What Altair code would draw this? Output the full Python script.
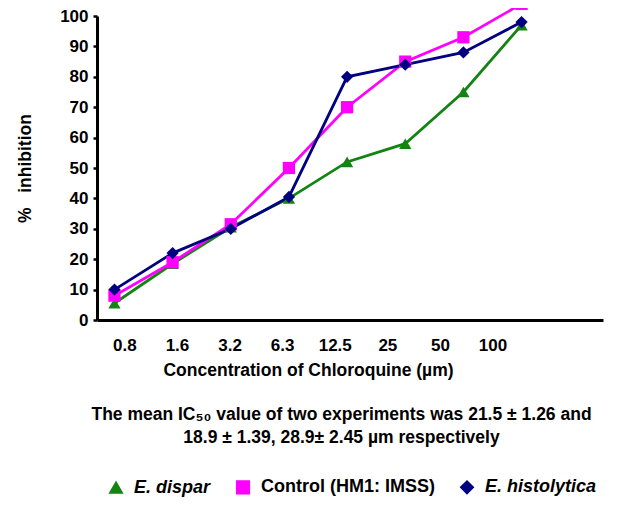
import altair as alt
import pandas as pd

concentrations = ["0.8", "1.6", "3.2", "6.3", "12.5", "25", "50", "100"]
series_names = ["E. dispar", "Control (HM1: IMSS)", "E. histolytica"]
e_dispar = [5.5, 18.5, 30.5, 40, 52, 58, 75, 97]
control = [8, 19, 31.5, 50, 70, 85, 93, 104]
e_histolytica = [10, 22, 30, 40.5, 80, 84, 88, 98]
y_ticks = [0, 10, 20, 30, 40, 50, 60, 70, 80, 90, 100]
caption = ["The mean IC\u2085\u2080 value of two experiments was 21.5 \u00b1 1.26 and",
           "18.9 \u00b1 1.39, 28.9\u00b1 2.45 \u00b5m respectively"]

colors = ["#138313", "#ff00ff", "#000080"]
shapes = ["triangle-up", "square", "diamond"]
FONT = "Liberation Sans"
FS = 17.5

rows = []
for name, vals in zip(series_names, [e_dispar, control, e_histolytica]):
    for i, (c, v) in enumerate(zip(concentrations, vals)):
        rows.append({"series": name, "idx": i, "conc": c, "value": v})
df = pd.DataFrame(rows)

label_expr = "[" + ",".join("'%s'" % c for c in concentrations) + "][datum.value]"

y_enc = alt.Y("value:Q", scale=alt.Scale(domain=[0, 100], nice=False),
              axis=alt.Axis(values=y_ticks, title="%\u00a0\u00a0 inhibition", grid=False,
                            labelOverlap=False,
                            domainColor="black", domainWidth=3, tickColor="black",
                            tickWidth=2.5, tickSize=4, labelPadding=5,
                            labelFont=FONT, labelFontSize=17, labelFontWeight="bold",
                            labelColor="black", titleFont=FONT, titleFontSize=FS,
                            titleFontWeight="bold", titleColor="black",
                            titleX=-72, titleY=152, titleAngle=270,
                            titleAlign="center", titleBaseline="middle"))

x_points = alt.X("idx:Q", scale=alt.Scale(domain=[-0.30, 8.40], nice=False, zero=False),
                 axis=alt.Axis(orient="bottom", domain=False, labels=False, ticks=False,
                               grid=False, title=caption, titleFont=FONT, titleFontSize=FS,
                               titleFontWeight="bold", titleColor="black",
                               titleX=244, titleY=85, titleAlign="center",
                               titleBaseline="top", titleLineHeight=23))

leg = alt.Legend(orient="none", legendX=10, legendY=462,
                 direction="horizontal", title=None,
                 labelFont=FONT, labelFontSize=18,
                 labelFontWeight="bold", labelColor="black",
                 labelFontStyle={"expr": "datum.label == 'Control (HM1: IMSS)' ? 'normal' : 'italic'"},
                 symbolSize=160, columnPadding=22, labelOffset=9,
                 labelLimit=300)

color_enc = alt.Color("series:N", scale=alt.Scale(domain=series_names, range=colors), legend=leg)

lines = alt.Chart(df).mark_line(strokeWidth=2.8).encode(
    x=x_points,
    y=y_enc,
    color=color_enc,
)

points = alt.Chart(df).mark_point(filled=True, opacity=1, size=150).encode(
    x=x_points,
    y=y_enc,
    color=color_enc,
    shape=alt.Shape("series:N", scale=alt.Scale(domain=series_names, range=shapes), legend=leg),
)

data_layer = alt.layer(lines, points)

axis_layer = alt.Chart(df).mark_point(opacity=0).encode(
    x=alt.X("idx:Q", scale=alt.Scale(domain=[-0.52, 9.10], nice=False, zero=False),
            axis=alt.Axis(orient="bottom", values=list(range(len(concentrations))),
                          labelExpr=label_expr, grid=False, ticks=False,
                          domainColor="black", domainWidth=3, labelPadding=17,
                          labelFont=FONT, labelFontSize=17, labelFontWeight="bold",
                          labelColor="black", title="Concentration of Chloroquine (\u00b5m)",
                          titleFont=FONT, titleFontSize=FS, titleFontWeight="bold",
                          titleColor="black", titleX=211, titleY=50,
                          titleAlign="center", titleBaseline="middle")),
)

chart = alt.layer(axis_layer, data_layer).resolve_scale(x="independent").resolve_axis(
    x="independent"
).properties(
    width=506, height=304,
    autosize=alt.AutoSizeParams(type="none"),
    padding={"left": 89, "top": 8, "right": 32, "bottom": 178},
    background="white",
).configure_view(stroke=None)

chart.save("out.html", embed_options={"renderer": "svg", "actions": False})
